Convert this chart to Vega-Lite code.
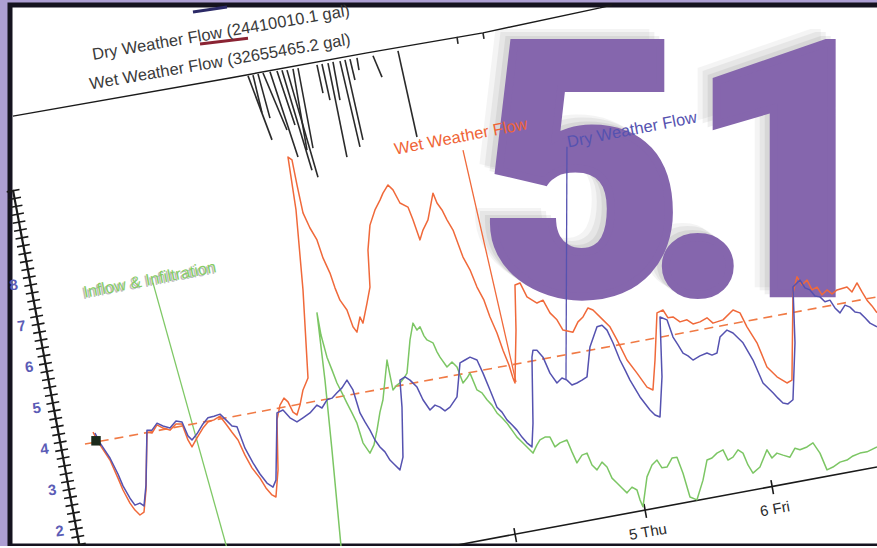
{
  "$schema": "https://vega.github.io/schema/vega-lite/v6.json",
  "width": 870,
  "height": 541,
  "autosize": "none",
  "padding": {"left": 10, "top": 5, "right": 0, "bottom": 0},
  "background": "#ad9fd3",
  "config": {"view": {"fill": "#ffffff", "stroke": "#15131f", "strokeWidth": 5}, "text": {"font": "Liberation Sans"}},
  "encoding": {
    "x": {"field": "h", "type": "quantitative", "scale": {"domain": [-21.95, 139.91], "nice": false, "zero": false}, "axis": null},
    "y": {"field": "v", "type": "quantitative", "scale": {"domain": [1.634, 14.829], "nice": false, "zero": false}, "axis": null}
  },
  "datasets": {
    "big": [{"t":"5","h":84.47,"v":7.8},{"t":".","h":106.23,"v":7.8},{"t":"1","h":123.16,"v":7.8}],
    "wet": [{"i":1,"h":-6.51,"v":4.41},{"i":2,"h":-5.21,"v":4.10},{"i":3,"h":-3.35,"v":3.73},{"i":4,"h":-1.86,"v":3.29},{"i":5,"h":-0.93,"v":3.00},{"i":6,"h":0.37,"v":2.68},{"i":7,"h":1.30,"v":2.51},{"i":8,"h":2.23,"v":2.39},{"i":9,"h":2.98,"v":2.46},{"i":10,"h":3.35,"v":3.00},{"i":11,"h":3.53,"v":4.41},{"i":12,"h":4.47,"v":4.39},{"i":13,"h":5.40,"v":4.59},{"i":14,"h":6.51,"v":4.51},{"i":15,"h":7.81,"v":4.46},{"i":16,"h":8.93,"v":4.61},{"i":17,"h":10.05,"v":4.61},{"i":18,"h":11.16,"v":4.22},{"i":19,"h":11.91,"v":4.05},{"i":20,"h":12.84,"v":4.27},{"i":21,"h":13.95,"v":4.51},{"i":22,"h":14.88,"v":4.66},{"i":23,"h":16.00,"v":4.71},{"i":24,"h":17.12,"v":4.80},{"i":25,"h":18.23,"v":4.61},{"i":26,"h":19.35,"v":4.41},{"i":27,"h":20.47,"v":4.22},{"i":28,"h":21.77,"v":3.85},{"i":29,"h":23.07,"v":3.54},{"i":30,"h":24.56,"v":3.29},{"i":31,"h":25.67,"v":3.05},{"i":32,"h":26.79,"v":2.88},{"i":33,"h":27.53,"v":2.83},{"i":34,"h":27.91,"v":3.49},{"i":35,"h":27.72,"v":4.71},{"i":36,"h":28.28,"v":5.07},{"i":37,"h":29.02,"v":5.24},{"i":38,"h":29.77,"v":5.15},{"i":39,"h":30.70,"v":4.90},{"i":40,"h":31.44,"v":4.83},{"i":41,"h":32.00,"v":5.07},{"i":42,"h":32.56,"v":5.44},{"i":43,"h":33.49,"v":5.73},{"i":44,"h":32.56,"v":7.88},{"i":45,"h":31.26,"v":9.83},{"i":46,"h":29.77,"v":11.12},{"i":47,"h":30.51,"v":11.05},{"i":48,"h":31.44,"v":10.44},{"i":49,"h":32.56,"v":9.76},{"i":50,"h":33.86,"v":9.39},{"i":51,"h":35.16,"v":9.10},{"i":52,"h":36.28,"v":8.66},{"i":53,"h":37.58,"v":8.29},{"i":54,"h":38.51,"v":7.93},{"i":55,"h":39.44,"v":7.63},{"i":56,"h":40.74,"v":7.39},{"i":57,"h":41.86,"v":6.98},{"i":58,"h":42.60,"v":6.85},{"i":59,"h":43.16,"v":7.22},{"i":60,"h":43.72,"v":7.07},{"i":61,"h":44.47,"v":7.56},{"i":62,"h":45.02,"v":7.95},{"i":63,"h":44.65,"v":8.85},{"i":64,"h":45.02,"v":9.46},{"i":65,"h":45.95,"v":9.83},{"i":66,"h":46.88,"v":10.07},{"i":67,"h":47.44,"v":10.24},{"i":68,"h":48.37,"v":10.44},{"i":69,"h":49.30,"v":10.32},{"i":70,"h":50.60,"v":10.00},{"i":71,"h":52.09,"v":9.90},{"i":72,"h":53.02,"v":9.59},{"i":73,"h":54.33,"v":9.10},{"i":74,"h":54.88,"v":9.34},{"i":75,"h":55.81,"v":9.59},{"i":76,"h":56.74,"v":10.24},{"i":77,"h":57.49,"v":10.00},{"i":78,"h":58.42,"v":9.83},{"i":79,"h":59.35,"v":9.59},{"i":80,"h":60.47,"v":9.34},{"i":81,"h":62.33,"v":8.68},{"i":82,"h":63.63,"v":8.37},{"i":83,"h":64.93,"v":7.95},{"i":84,"h":66.23,"v":7.63},{"i":85,"h":67.35,"v":7.22},{"i":86,"h":68.65,"v":6.83},{"i":87,"h":69.77,"v":6.41},{"i":88,"h":70.88,"v":6.05},{"i":89,"h":71.63,"v":5.73},{"i":90,"h":72.00,"v":5.61},{"i":91,"h":72.19,"v":6.90},{"i":92,"h":72.00,"v":8.00},{"i":93,"h":72.93,"v":8.05},{"i":94,"h":74.23,"v":7.71},{"i":95,"h":76.09,"v":7.56},{"i":96,"h":77.21,"v":7.63},{"i":97,"h":78.51,"v":7.32},{"i":98,"h":79.81,"v":7.15},{"i":99,"h":80.93,"v":6.90},{"i":100,"h":82.79,"v":6.85},{"i":101,"h":83.72,"v":7.10},{"i":102,"h":84.65,"v":7.22},{"i":103,"h":85.58,"v":7.44},{"i":104,"h":86.51,"v":7.39},{"i":105,"h":88.37,"v":7.15},{"i":106,"h":89.67,"v":6.98},{"i":107,"h":90.98,"v":6.66},{"i":108,"h":92.84,"v":6.17},{"i":109,"h":94.70,"v":5.85},{"i":110,"h":96.56,"v":5.51},{"i":111,"h":97.67,"v":5.44},{"i":112,"h":98.05,"v":6.17},{"i":113,"h":98.42,"v":7.32},{"i":114,"h":99.53,"v":7.39},{"i":115,"h":100.47,"v":7.20},{"i":116,"h":101.40,"v":7.22},{"i":117,"h":102.70,"v":7.10},{"i":118,"h":104.00,"v":7.15},{"i":119,"h":105.12,"v":7.05},{"i":120,"h":106.42,"v":7.10},{"i":121,"h":107.72,"v":7.20},{"i":122,"h":108.84,"v":7.07},{"i":123,"h":110.70,"v":7.15},{"i":124,"h":112.56,"v":7.39},{"i":125,"h":113.86,"v":7.32},{"i":126,"h":115.16,"v":6.98},{"i":127,"h":117.02,"v":6.59},{"i":128,"h":118.88,"v":6.00},{"i":129,"h":120.74,"v":5.76},{"i":130,"h":122.60,"v":5.61},{"i":131,"h":123.53,"v":5.68},{"i":132,"h":123.72,"v":7.80},{"i":133,"h":124.47,"v":8.20},{"i":134,"h":125.40,"v":8.00},{"i":135,"h":126.33,"v":8.12},{"i":136,"h":127.26,"v":7.88},{"i":137,"h":128.19,"v":7.95},{"i":138,"h":129.12,"v":7.76},{"i":139,"h":130.05,"v":7.88},{"i":140,"h":130.98,"v":7.78},{"i":141,"h":131.91,"v":7.88},{"i":142,"h":133.77,"v":7.95},{"i":143,"h":134.70,"v":7.83},{"i":144,"h":135.63,"v":8.05},{"i":145,"h":136.56,"v":7.83},{"i":146,"h":137.49,"v":7.63},{"i":147,"h":138.42,"v":7.49},{"i":148,"h":139.35,"v":7.32}],
    "dry": [{"i":1,"h":-6.14,"v":4.39},{"i":2,"h":-5.21,"v":4.15},{"i":3,"h":-3.35,"v":3.78},{"i":4,"h":-1.86,"v":3.39},{"i":5,"h":-0.93,"v":3.10},{"i":6,"h":0.37,"v":2.80},{"i":7,"h":1.30,"v":2.63},{"i":8,"h":2.23,"v":2.68},{"i":9,"h":2.98,"v":2.61},{"i":10,"h":3.35,"v":3.12},{"i":11,"h":3.53,"v":4.46},{"i":12,"h":4.47,"v":4.46},{"i":13,"h":5.40,"v":4.63},{"i":14,"h":6.51,"v":4.56},{"i":15,"h":7.81,"v":4.51},{"i":16,"h":8.93,"v":4.68},{"i":17,"h":10.05,"v":4.66},{"i":18,"h":11.16,"v":4.32},{"i":19,"h":11.91,"v":4.22},{"i":20,"h":12.84,"v":4.37},{"i":21,"h":13.95,"v":4.61},{"i":22,"h":14.88,"v":4.76},{"i":23,"h":16.00,"v":4.80},{"i":24,"h":17.12,"v":4.85},{"i":25,"h":18.23,"v":4.71},{"i":26,"h":19.35,"v":4.56},{"i":27,"h":20.28,"v":4.54},{"i":28,"h":21.77,"v":4.02},{"i":29,"h":23.26,"v":3.66},{"i":30,"h":24.56,"v":3.39},{"i":31,"h":25.86,"v":3.17},{"i":32,"h":26.98,"v":3.07},{"i":33,"h":27.53,"v":3.24},{"i":34,"h":27.72,"v":4.88},{"i":35,"h":28.84,"v":4.95},{"i":36,"h":30.14,"v":4.76},{"i":37,"h":31.44,"v":4.66},{"i":38,"h":32.56,"v":4.76},{"i":39,"h":33.86,"v":4.88},{"i":40,"h":35.16,"v":5.07},{"i":41,"h":36.09,"v":5.00},{"i":42,"h":37.02,"v":5.20},{"i":43,"h":37.95,"v":5.24},{"i":44,"h":38.88,"v":5.37},{"i":45,"h":39.81,"v":5.49},{"i":46,"h":40.74,"v":5.68},{"i":47,"h":41.86,"v":5.44},{"i":48,"h":43.16,"v":4.88},{"i":49,"h":44.09,"v":4.66},{"i":50,"h":45.02,"v":4.46},{"i":51,"h":45.95,"v":4.22},{"i":52,"h":46.88,"v":4.05},{"i":53,"h":47.81,"v":3.93},{"i":54,"h":48.74,"v":3.73},{"i":55,"h":49.67,"v":3.61},{"i":56,"h":50.60,"v":3.49},{"i":57,"h":51.16,"v":3.80},{"i":58,"h":50.98,"v":5.02},{"i":59,"h":50.60,"v":5.68},{"i":60,"h":51.53,"v":5.76},{"i":61,"h":52.47,"v":5.68},{"i":62,"h":53.77,"v":5.51},{"i":63,"h":54.88,"v":5.20},{"i":64,"h":56.19,"v":4.95},{"i":65,"h":57.12,"v":5.07},{"i":66,"h":58.05,"v":5.02},{"i":67,"h":58.98,"v":4.93},{"i":68,"h":59.91,"v":5.02},{"i":69,"h":61.21,"v":5.27},{"i":70,"h":61.77,"v":6.10},{"i":71,"h":62.70,"v":6.17},{"i":72,"h":63.63,"v":6.24},{"i":73,"h":64.93,"v":6.17},{"i":74,"h":66.05,"v":5.85},{"i":75,"h":67.35,"v":5.44},{"i":76,"h":68.65,"v":5.02},{"i":77,"h":69.58,"v":4.90},{"i":78,"h":70.51,"v":4.71},{"i":79,"h":71.44,"v":4.59},{"i":80,"h":72.37,"v":4.46},{"i":81,"h":73.30,"v":4.29},{"i":82,"h":74.23,"v":4.15},{"i":83,"h":75.16,"v":4.05},{"i":84,"h":75.35,"v":4.63},{"i":85,"h":75.16,"v":6.24},{"i":86,"h":75.35,"v":6.41},{"i":87,"h":76.09,"v":6.41},{"i":88,"h":77.21,"v":6.24},{"i":89,"h":78.51,"v":5.85},{"i":90,"h":79.81,"v":5.61},{"i":91,"h":80.74,"v":5.73},{"i":92,"h":81.67,"v":5.68},{"i":93,"h":82.60,"v":5.56},{"i":94,"h":83.53,"v":5.61},{"i":95,"h":84.47,"v":5.68},{"i":96,"h":85.40,"v":5.76},{"i":97,"h":85.95,"v":6.49},{"i":98,"h":87.26,"v":6.98},{"i":99,"h":88.19,"v":7.02},{"i":100,"h":89.12,"v":6.90},{"i":101,"h":90.23,"v":6.59},{"i":102,"h":91.53,"v":6.17},{"i":103,"h":92.47,"v":5.93},{"i":104,"h":93.40,"v":5.68},{"i":105,"h":95.26,"v":5.27},{"i":106,"h":97.12,"v":4.95},{"i":107,"h":98.05,"v":4.83},{"i":108,"h":98.98,"v":4.78},{"i":109,"h":99.35,"v":5.76},{"i":110,"h":98.98,"v":7.22},{"i":111,"h":100.28,"v":7.15},{"i":112,"h":101.40,"v":6.73},{"i":113,"h":102.33,"v":6.54},{"i":114,"h":103.26,"v":6.34},{"i":115,"h":104.19,"v":6.27},{"i":116,"h":105.12,"v":6.17},{"i":117,"h":106.42,"v":6.27},{"i":118,"h":107.72,"v":6.34},{"i":119,"h":108.65,"v":6.29},{"i":120,"h":109.58,"v":6.34},{"i":121,"h":110.14,"v":6.73},{"i":122,"h":111.44,"v":6.90},{"i":123,"h":112.56,"v":6.83},{"i":124,"h":114.42,"v":6.59},{"i":125,"h":116.28,"v":6.17},{"i":126,"h":118.14,"v":5.61},{"i":127,"h":120.00,"v":5.37},{"i":128,"h":120.93,"v":5.24},{"i":129,"h":121.86,"v":5.12},{"i":130,"h":122.79,"v":5.10},{"i":131,"h":123.72,"v":5.20},{"i":132,"h":124.09,"v":6.59},{"i":133,"h":123.72,"v":7.95},{"i":134,"h":125.02,"v":8.12},{"i":135,"h":125.95,"v":7.93},{"i":136,"h":126.88,"v":7.88},{"i":137,"h":127.81,"v":7.73},{"i":138,"h":128.74,"v":7.71},{"i":139,"h":129.67,"v":7.59},{"i":140,"h":130.60,"v":7.63},{"i":141,"h":131.53,"v":7.44},{"i":142,"h":132.47,"v":7.32},{"i":143,"h":133.40,"v":7.51},{"i":144,"h":134.33,"v":7.46},{"i":145,"h":135.26,"v":7.34},{"i":146,"h":136.19,"v":7.32},{"i":147,"h":137.12,"v":7.20},{"i":148,"h":138.05,"v":7.07},{"i":149,"h":139.35,"v":6.98}],
    "ii": [{"i":1,"h":39.63,"v":1.63},{"i":2,"h":37.95,"v":3.98},{"i":3,"h":36.65,"v":5.68},{"i":4,"h":35.16,"v":7.32},{"i":5,"h":35.91,"v":6.78},{"i":6,"h":37.02,"v":6.24},{"i":7,"h":37.95,"v":5.93},{"i":8,"h":38.88,"v":5.61},{"i":9,"h":39.81,"v":5.37},{"i":10,"h":40.74,"v":5.12},{"i":11,"h":41.67,"v":4.88},{"i":12,"h":42.60,"v":4.63},{"i":13,"h":43.72,"v":4.15},{"i":14,"h":45.02,"v":3.90},{"i":15,"h":45.77,"v":4.10},{"i":16,"h":46.33,"v":4.46},{"i":17,"h":46.88,"v":4.90},{"i":18,"h":47.44,"v":5.20},{"i":19,"h":48.19,"v":6.17},{"i":20,"h":48.74,"v":5.80},{"i":21,"h":49.30,"v":5.44},{"i":22,"h":50.05,"v":5.56},{"i":23,"h":50.60,"v":5.61},{"i":24,"h":51.35,"v":5.73},{"i":25,"h":51.91,"v":5.85},{"i":26,"h":52.47,"v":6.66},{"i":27,"h":53.02,"v":7.07},{"i":28,"h":53.77,"v":6.90},{"i":29,"h":54.33,"v":6.98},{"i":30,"h":55.07,"v":6.76},{"i":31,"h":55.63,"v":6.66},{"i":32,"h":56.74,"v":6.59},{"i":33,"h":57.49,"v":6.37},{"i":34,"h":58.05,"v":6.24},{"i":35,"h":59.35,"v":6.00},{"i":36,"h":60.28,"v":6.12},{"i":37,"h":61.21,"v":6.00},{"i":38,"h":62.33,"v":5.61},{"i":39,"h":63.07,"v":5.73},{"i":40,"h":63.63,"v":5.85},{"i":41,"h":64.93,"v":5.44},{"i":42,"h":65.86,"v":5.37},{"i":43,"h":66.79,"v":5.20},{"i":44,"h":67.72,"v":5.07},{"i":45,"h":68.65,"v":4.88},{"i":46,"h":69.58,"v":4.76},{"i":47,"h":70.51,"v":4.63},{"i":48,"h":71.44,"v":4.46},{"i":49,"h":72.37,"v":4.29},{"i":50,"h":73.30,"v":4.17},{"i":51,"h":74.23,"v":4.05},{"i":52,"h":75.35,"v":3.90},{"i":53,"h":76.09,"v":4.10},{"i":54,"h":76.65,"v":4.22},{"i":55,"h":77.58,"v":4.29},{"i":56,"h":78.51,"v":4.29},{"i":57,"h":79.44,"v":4.05},{"i":58,"h":80.37,"v":4.15},{"i":59,"h":81.67,"v":4.22},{"i":60,"h":82.60,"v":3.93},{"i":61,"h":83.53,"v":3.66},{"i":62,"h":84.47,"v":3.85},{"i":63,"h":85.40,"v":3.90},{"i":64,"h":86.33,"v":3.61},{"i":65,"h":87.26,"v":3.49},{"i":66,"h":88.19,"v":3.68},{"i":67,"h":89.12,"v":3.56},{"i":68,"h":90.05,"v":3.29},{"i":69,"h":90.98,"v":3.17},{"i":70,"h":91.91,"v":3.05},{"i":71,"h":92.84,"v":2.93},{"i":72,"h":93.77,"v":3.07},{"i":73,"h":94.70,"v":3.00},{"i":74,"h":95.26,"v":2.76},{"i":75,"h":95.81,"v":2.59},{"i":76,"h":96.56,"v":3.32},{"i":77,"h":97.49,"v":3.61},{"i":78,"h":98.42,"v":3.73},{"i":79,"h":99.35,"v":3.54},{"i":80,"h":100.28,"v":3.56},{"i":81,"h":101.21,"v":3.78},{"i":82,"h":102.14,"v":3.80},{"i":83,"h":103.26,"v":3.41},{"i":84,"h":104.56,"v":2.83},{"i":85,"h":105.86,"v":2.76},{"i":86,"h":106.98,"v":3.24},{"i":87,"h":107.72,"v":3.73},{"i":88,"h":108.65,"v":3.78},{"i":89,"h":109.58,"v":3.90},{"i":90,"h":110.70,"v":3.98},{"i":91,"h":111.63,"v":3.73},{"i":92,"h":112.56,"v":3.80},{"i":93,"h":113.49,"v":3.98},{"i":94,"h":114.42,"v":3.90},{"i":95,"h":115.35,"v":3.61},{"i":96,"h":116.28,"v":3.41},{"i":97,"h":117.58,"v":3.56},{"i":98,"h":118.88,"v":3.98},{"i":99,"h":119.81,"v":3.78},{"i":100,"h":120.74,"v":3.90},{"i":101,"h":121.86,"v":3.85},{"i":102,"h":123.16,"v":3.80},{"i":103,"h":124.09,"v":4.02},{"i":104,"h":125.02,"v":3.98},{"i":105,"h":126.33,"v":4.05},{"i":106,"h":127.44,"v":4.15},{"i":107,"h":128.74,"v":3.90},{"i":108,"h":130.05,"v":3.49},{"i":109,"h":131.16,"v":3.56},{"i":110,"h":132.47,"v":3.68},{"i":111,"h":133.77,"v":3.73},{"i":112,"h":134.88,"v":3.83},{"i":113,"h":136.19,"v":3.90},{"i":114,"h":137.49,"v":3.93},{"i":115,"h":139.35,"v":4.05}],
    "rain": [{"h":22.33,"v":13.10,"h2":26.79,"v2":11.54},{"h":23.26,"v":13.12,"h2":24.93,"v2":12.20},{"h":24.19,"v":13.15,"h2":26.42,"v2":12.07},{"h":25.12,"v":13.17,"h2":29.58,"v2":11.78},{"h":26.42,"v":13.20,"h2":31.63,"v2":11.12},{"h":27.72,"v":13.22,"h2":31.07,"v2":11.90},{"h":28.65,"v":13.24,"h2":34.23,"v2":10.80},{"h":29.58,"v":13.24,"h2":35.35,"v2":10.63},{"h":30.70,"v":13.27,"h2":33.30,"v2":11.29},{"h":31.63,"v":13.29,"h2":34.42,"v2":11.34},{"h":35.16,"v":13.37,"h2":36.28,"v2":12.68},{"h":36.09,"v":13.39,"h2":37.58,"v2":12.51},{"h":37.21,"v":13.41,"h2":40.74,"v2":11.12},{"h":38.14,"v":13.44,"h2":39.44,"v2":12.51},{"h":39.44,"v":13.46,"h2":43.16,"v2":11.37},{"h":40.37,"v":13.49,"h2":43.72,"v2":11.54},{"h":41.30,"v":13.51,"h2":42.23,"v2":13.00},{"h":42.60,"v":13.54,"h2":42.98,"v2":13.24},{"h":45.58,"v":13.59,"h2":47.26,"v2":13.07},{"h":50.23,"v":13.71,"h2":53.77,"v2":11.61},{"h":61.21,"v":14.05,"h2":61.40,"v2":13.88},{"h":66.05,"v":14.15,"h2":66.23,"v2":14.00}]
  },
  "layer": [
    {"data": {"name": "big"},
     "mark": {"type": "text", "font": "Roboto", "fontWeight": 900, "fontSize": 352, "align": "center", "baseline": "alphabetic", "color": "#000000", "stroke": "#000000", "strokeWidth": 8, "strokeJoin": "miter", "opacity": 0.04, "dx": -15, "dy": -10},
     "encoding": {"text": {"field": "t"}}},
    {"data": {"name": "big"},
     "mark": {"type": "text", "font": "Roboto", "fontWeight": 900, "fontSize": 352, "align": "center", "baseline": "alphabetic", "color": "#000000", "stroke": "#000000", "strokeWidth": 8, "strokeJoin": "miter", "opacity": 0.05, "dx": -10, "dy": -7},
     "encoding": {"text": {"field": "t"}}},
    {"data": {"name": "big"},
     "mark": {"type": "text", "font": "Roboto", "fontWeight": 900, "fontSize": 352, "align": "center", "baseline": "alphabetic", "color": "#000000", "stroke": "#000000", "strokeWidth": 8, "strokeJoin": "miter", "opacity": 0.06, "dx": -5, "dy": -3},
     "encoding": {"text": {"field": "t"}}},
    {"data": {"name": "big"},
     "mark": {"type": "text", "font": "Roboto", "fontWeight": 900, "fontSize": 352, "align": "center", "baseline": "alphabetic", "color": "#8566ad", "stroke": "#8566ad", "strokeWidth": 8, "strokeJoin": "miter"},
     "encoding": {"text": {"field": "t"}}},
    {"data": {"values": [{"h":-21.40,"v":12.12},{"h":18.98,"v":13.05},{"h":44.47,"v":13.66},{"h":66.05,"v":14.15},{"h":87.81,"v":14.76},{"h":90.05,"v":14.83}]},
     "mark": {"type": "line", "color": "#1a1a1a", "strokeWidth": 1.4}, "encoding": {}},
    {"data": {"name": "rain"}, "mark": {"type": "rule", "color": "#2a2a2a", "strokeWidth": 1.6},
     "encoding": {"x2": {"field": "h2"}, "y2": {"field": "v2"}}},
    {"data": {"values": [{"h":12.09,"v":14.66,"h2":18.42,"v2":14.78}]},
     "mark": {"type": "rule", "strokeWidth": 3, "color": "#2b2966"},
     "encoding": {"x2": {"field": "h2"}, "y2": {"field": "v2"}}},
    {"data": {"values": [{"h":13.40,"v":13.88,"h2":22.33,"v2":14.02}]},
     "mark": {"type": "rule", "strokeWidth": 3, "color": "#8a2333"},
     "encoding": {"x2": {"field": "h2"}, "y2": {"field": "v2"}}},
    {"data": {"values": [{"t":"Dry Weather Flow (24410010.1 gal)","h":17.30,"v":14.15},{"t":"Wet Weather Flow (32655465.2 gal)","h":17.12,"v":13.44}]},
     "mark": {"type": "text", "fontSize": 16.5, "angle": -9.8, "align": "center", "baseline": "middle", "color": "#3a3a3a"},
     "encoding": {"text": {"field": "t"}}},
    {"data": {"values": [{"h":-21.40,"v":10.32},{"h":-9.0,"v":1.63}]},
     "mark": {"type": "line", "color": "#1a1a1a", "strokeWidth": 13, "strokeDash": [1.6, 6.4], "strokeCap": "butt"}, "encoding": {}},
    {"data": {"values": [{"h":-21.40,"v":10.32},{"h":-9.0,"v":1.63}]},
     "mark": {"type": "line", "color": "#1a1a1a", "strokeWidth": 2.2}, "encoding": {}},
    {"data": {"values": [{"t":"8","h":-21.25,"v":8},{"t":"7","h":-19.83,"v":7},{"t":"6","h":-18.40,"v":6},{"t":"5","h":-16.97,"v":5},{"t":"4","h":-15.55,"v":4},{"t":"3","h":-14.12,"v":3},{"t":"2","h":-12.69,"v":2}]},
     "mark": {"type": "text", "fontSize": 15, "fontWeight": "bold", "angle": -8, "align": "center", "baseline": "middle", "color": "#5b5cb6"},
     "encoding": {"text": {"field": "t"}}},
    {"data": {"values": [{"h":60.06,"v":1.63},{"h":139.35,"v":3.56}]},
     "mark": {"type": "line", "color": "#1a1a1a", "strokeWidth": 1.6}, "encoding": {}},
    {"data": {"values": [{"h":71.81,"v":2.07,"h2":72.28,"v2":1.73},{"h":96.0,"v":2.66,"h2":96.47,"v2":2.32},{"h":119.63,"v":3.24,"h2":120.09,"v2":2.90}]},
     "mark": {"type": "rule", "color": "#1a1a1a", "strokeWidth": 1.6},
     "encoding": {"x2": {"field": "h2"}, "y2": {"field": "v2"}}},
    {"data": {"values": [{"t":"5 Thu","h":96.74,"v":1.98},{"t":"6 Fri","h":120.37,"v":2.54}]},
     "mark": {"type": "text", "fontSize": 15, "angle": -10, "align": "center", "baseline": "middle", "color": "#2a2a2a"},
     "encoding": {"text": {"field": "t"}}},
    {"data": {"values": [{"h":62.33,"v":11.29},{"h":72.19,"v":5.63}]},
     "mark": {"type": "line", "strokeWidth": 1.3, "color": "#f0693a"}, "encoding": {}},
    {"data": {"values": [{"h":81.67,"v":11.37},{"h":81.49,"v":5.68}]},
     "mark": {"type": "line", "strokeWidth": 1.3, "color": "#5552b0"}, "encoding": {}},
    {"data": {"values": [{"h":4.65,"v":8.05},{"h":18.31,"v":1.63}]},
     "mark": {"type": "line", "strokeWidth": 1.3, "color": "#7fc866"}, "encoding": {}},
    {"data": {"values": [{"t":"Wet Weather Flow","h":61.95,"v":11.61}]},
     "mark": {"type": "text", "fontSize": 16.5, "angle": -11, "align": "center", "baseline": "middle", "color": "#ef6436"},
     "encoding": {"text": {"field": "t"}}},
    {"data": {"values": [{"t":"Dry Weather Flow","h":93.77,"v":11.78}]},
     "mark": {"type": "text", "fontSize": 16.5, "angle": -11, "align": "center", "baseline": "middle", "color": "#5552b0"},
     "encoding": {"text": {"field": "t"}}},
    {"data": {"values": [{"t":"Inflow & Infiltration","h":4.09,"v":8.12}]},
     "mark": {"type": "text", "fontSize": 16.5, "angle": -11, "align": "center", "baseline": "middle", "color": "#bcbcbc", "dx": -2, "dy": 1},
     "encoding": {"text": {"field": "t"}}},
    {"data": {"values": [{"t":"Inflow & Infiltration","h":4.09,"v":8.12}]},
     "mark": {"type": "text", "fontSize": 16.5, "angle": -11, "align": "center", "baseline": "middle", "color": "#86cc66"},
     "encoding": {"text": {"field": "t"}}},
    {"data": {"values": [{"h":-8.0,"v":4.12},{"h":139.35,"v":7.71}]},
     "mark": {"type": "line", "color": "#f07a45", "strokeWidth": 1.6, "strokeDash": [9, 6]}, "encoding": {}},
    {"data": {"name": "ii"}, "mark": {"type": "line", "color": "#7cc664", "strokeWidth": 1.5, "strokeJoin": "round"},
     "encoding": {"order": {"field": "i", "type": "quantitative"}}},
    {"data": {"name": "wet"}, "mark": {"type": "line", "color": "#f0693a", "strokeWidth": 1.5, "strokeJoin": "round"},
     "encoding": {"order": {"field": "i", "type": "quantitative"}}},
    {"data": {"name": "dry"}, "mark": {"type": "line", "color": "#5552b0", "strokeWidth": 1.5, "strokeJoin": "round"},
     "encoding": {"order": {"field": "i", "type": "quantitative"}}},
    {"data": {"values": [{"h":-5.95,"v":4.20}]},
     "mark": {"type": "square", "size": 90, "color": "#1b2a1b", "opacity": 1}}
  ]
}
